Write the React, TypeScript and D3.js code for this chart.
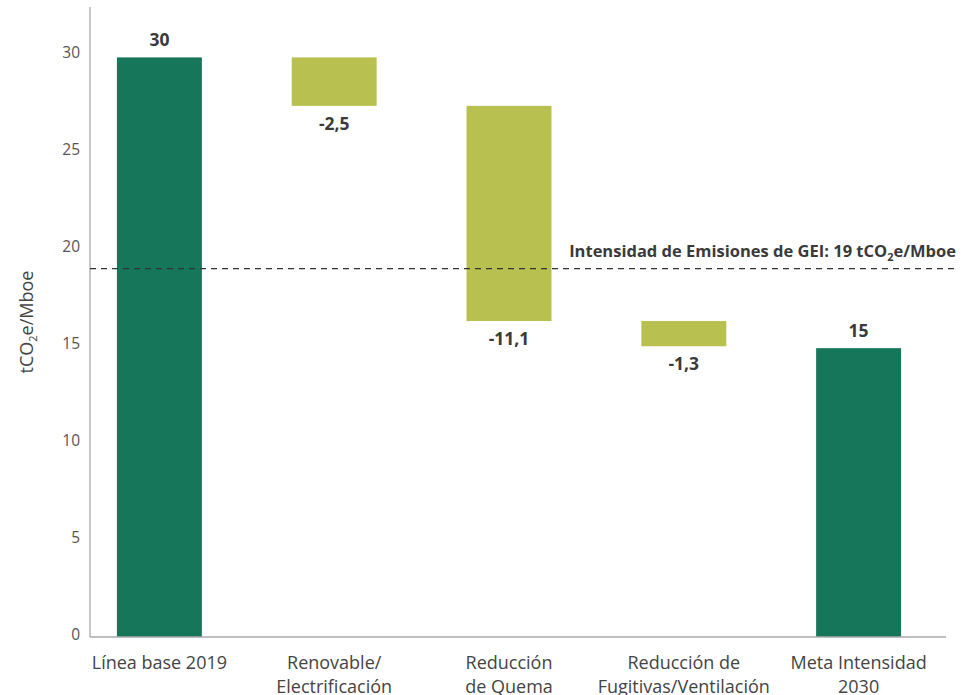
import React, { useEffect, useRef } from 'react';
import * as d3 from 'd3';

// waterfall: baseline, reductions, target
const categories = ['Línea base 2019', 'Renovable/Electrificación', 'Reducción de Quema', 'Reducción de Fugitivas/Ventilación', 'Meta Intensidad 2030'];
const categoryLines = [
  ['Línea base 2019'],
  ['Renovable/', 'Electrificación'],
  ['Reducción', 'de Quema'],
  ['Reducción de', 'Fugitivas/Ventilación'],
  ['Meta Intensidad', '2030'],
];
const baseValue = 29.9;
const reductions = [-2.5, -11.1, -1.3];
const targetValue = 14.9;
const yTicks = [0, 5, 10, 15, 20, 25, 30];
const targetLine = 19;

const WIDTH = 974;
const HEIGHT = 695;
const DARK = '#15765a';
const OLIVE = '#b8c150';
const FONT = '"Open Sans", "Noto Sans", sans-serif';

// hyphen minus and decimal comma like the source
const esFormat = d3.formatLocale({ decimal: ',', thousands: '.', grouping: [3], currency: ['', ''], minus: '-' });

const App: React.FC = () => {
  const svgRef = useRef<SVGSVGElement | null>(null);

  useEffect(() => {
    if (!svgRef.current) return;
    const svg = d3.select(svgRef.current);
    svg.selectAll('*').remove();

    const x = d3.scaleBand<string>()
      .domain(categories)
      .range([72, 946])
      .paddingInner(0.514)
      .paddingOuter(0.257);
    const y = d3.scaleLinear().domain([0, 32.5]).range([637, 7]);

    // build waterfall segments
    type Seg = { cat: string; y0: number; y1: number; kind: 'total' | 'delta'; label: string };
    const segs: Seg[] = [];
    segs.push({ cat: categories[0], y0: 0, y1: baseValue, kind: 'total', label: esFormat.format('.0f')(baseValue) });
    let running = baseValue;
    reductions.forEach((r, i) => {
      const next = running + r;
      segs.push({ cat: categories[i + 1], y0: next, y1: running, kind: 'delta', label: esFormat.format('.1f')(r) });
      running = next;
    });
    segs.push({ cat: categories[4], y0: 0, y1: targetValue, kind: 'total', label: esFormat.format('.0f')(targetValue) });

    const g = svg.append('g');

    g.selectAll('rect.bar')
      .data(segs)
      .enter().append('rect')
      .attr('class', 'bar')
      .attr('x', d => x(d.cat)!)
      .attr('width', x.bandwidth())
      .attr('y', d => y(d.y1))
      .attr('height', d => y(d.y0) - y(d.y1))
      .attr('fill', d => d.kind === 'total' ? DARK : OLIVE);

    // value labels
    g.selectAll('text.val')
      .data(segs)
      .enter().append('text')
      .attr('class', 'val')
      .attr('x', d => x(d.cat)! + x.bandwidth() / 2)
      .attr('y', d => d.kind === 'total' ? y(d.y1) - 11 : y(d.y0) + 24)
      .attr('text-anchor', 'middle')
      .style('font-family', FONT)
      .style('font-size', '17.5px')
      .style('font-weight', 700)
      .style('fill', '#3a3a3a')
      .text(d => d.label);

    // axes
    g.append('line')
      .attr('x1', 90).attr('x2', 90)
      .attr('y1', y(32.5)).attr('y2', y(0))
      .attr('stroke', '#aaaaaa').attr('stroke-width', 1.3);
    g.append('line')
      .attr('x1', 90).attr('x2', 946)
      .attr('y1', y(0)).attr('y2', y(0))
      .attr('stroke', '#aaaaaa').attr('stroke-width', 1.3);

    g.selectAll('text.tick')
      .data(yTicks)
      .enter().append('text')
      .attr('class', 'tick')
      .attr('x', 80)
      .attr('y', d => y(d) - 2)
      .attr('dy', '0.32em')
      .attr('text-anchor', 'end')
      .style('font-family', FONT)
      .style('font-size', '15.5px')
      .style('fill', '#555555')
      .text(d => d);

    // category labels
    categoryLines.forEach((lines, i) => {
      const cx = x(categories[i])! + x.bandwidth() / 2;
      const t = g.append('text')
        .attr('x', cx)
        .attr('y', 669)
        .attr('text-anchor', 'middle')
        .style('font-family', FONT)
        .style('font-size', '18px')
        .style('fill', '#444444');
      lines.forEach((ln, j) => {
        t.append('tspan')
          .attr('x', cx)
          .attr('dy', j === 0 ? 0 : 24)
          .text(ln);
      });
    });

    // target line
    g.append('line')
      .attr('x1', 90).attr('x2', 958)
      .attr('y1', y(targetLine)).attr('y2', y(targetLine))
      .attr('stroke', '#333333')
      .attr('stroke-width', 1.3)
      .attr('stroke-dasharray', '6,5');

    const ann = g.append('text')
      .attr('x', 956)
      .attr('y', y(targetLine) - 12)
      .attr('text-anchor', 'end')
      .style('font-family', FONT)
      .style('font-size', '16.5px')
      .style('font-weight', 700)
      .style('fill', '#3a3a3a');
    ann.append('tspan').text(`Intensidad de Emisiones de GEI: ${targetLine} tCO`);
    ann.append('tspan').attr('dy', 4).style('font-size', '11px').text('2');
    ann.append('tspan').attr('dy', -4).text('e/Mboe');

    // y axis title
    const yt = g.append('text')
      .attr('transform', `translate(33,${(y(0) + y(32.5)) / 2}) rotate(-90)`)
      .attr('text-anchor', 'middle')
      .style('font-family', FONT)
      .style('font-size', '18px')
      .style('fill', '#444444');
    yt.append('tspan').text('tCO');
    yt.append('tspan').attr('dy', 4).style('font-size', '11px').text('2');
    yt.append('tspan').attr('dy', -4).text('e/Mboe');
  }, []);

  return (
    <svg ref={svgRef} width={WIDTH} height={HEIGHT}
      style={{ position: 'absolute', left: 0, top: 0, background: '#ffffff' }} />
  );
};

export default App;
